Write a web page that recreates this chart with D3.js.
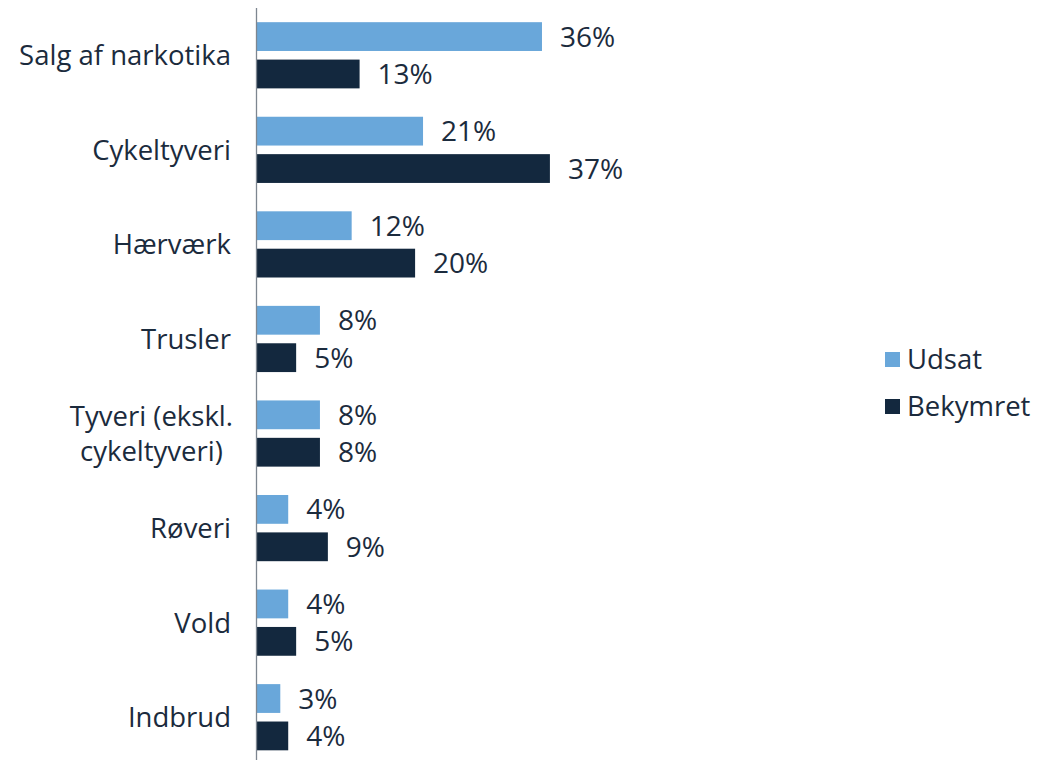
<!DOCTYPE html>
<html>
<head>
<meta charset="utf-8">
<script src="https://cdn.jsdelivr.net/npm/d3@7"></script>
<style>
  html, body { margin: 0; padding: 0; background: #ffffff; }
  svg { display: block; }
  text { font-family: "Open Sans", "Lato", sans-serif; fill: #1b2b3d; }
</style>
</head>
<body>
<svg id="chart" width="1058" height="760"></svg>
<script>
// Crime categories, top to bottom (the fifth one is split over two lines)
const categories = [
  "Salg af narkotika",
  "Cykeltyveri",
  "Hærværk",
  "Trusler",
  "Tyveri (ekskl.\ncykeltyveri)",
  "Røveri",
  "Vold",
  "Indbrud"
];
const seriesNames = ["Udsat", "Bekymret"];
// Share of respondents, in percent
const udsat    = [36, 21, 12, 8, 8, 4, 4, 3];
const bekymret = [13, 37, 20, 5, 8, 9, 5, 4];
const seriesColors = ["#69a7da", "#13283e"];

const rows = categories.map((c, i) => ({ category: c, values: [udsat[i], bekymret[i]] }));

const svg = d3.select("#chart");
const axisX = 256.5;
const labelRight = 231;

const x = d3.scaleLinear().domain([0, 37]).range([axisX, axisX + 37 * 7.93]);

const y = d3.scaleBand()
  .domain(d3.range(categories.length))
  .range([8, 764.5])
  .paddingInner(0.3)
  .paddingOuter(0.15);

const ySub = d3.scaleBand()
  .domain(d3.range(seriesNames.length))
  .range([0, y.bandwidth()])
  .paddingInner(0.23);

const groups = svg.append("g").selectAll("g")
  .data(rows)
  .join("g")
  .attr("transform", (d, i) => `translate(0,${y(i)})`);

// Bars
groups.selectAll("rect")
  .data(d => d.values)
  .join("rect")
  .attr("x", x(0))
  .attr("y", (v, j) => ySub(j))
  .attr("width", v => x(v) - x(0))
  .attr("height", ySub.bandwidth())
  .attr("fill", (v, j) => seriesColors[j]);

// Value labels
groups.selectAll("text.val")
  .data(d => d.values)
  .join("text")
  .attr("class", "val")
  .attr("x", v => x(v) + 18)
  .attr("y", (v, j) => ySub(j) + ySub.bandwidth() / 2)
  .attr("dy", "0.36em")
  .attr("font-size", 28)
  .text(v => v + "%");

// Category labels; wrapped labels have their lines centred on each other
groups.each(function (d) {
  const lines = d.category.split("\n");
  const g = d3.select(this);
  const lh = 35;
  const c = y.bandwidth() / 2;
  if (lines.length === 1) {
    g.append("text")
      .attr("text-anchor", "end")
      .attr("font-size", 27.5)
      .attr("x", labelRight)
      .attr("y", c)
      .attr("dy", "0.36em")
      .text(lines[0]);
  } else {
    const t = g.append("text")
      .attr("text-anchor", "middle")
      .attr("font-size", 27.5);
    const spans = lines.map((ln, k) => t.append("tspan")
      .attr("y", c + (k - (lines.length - 1) / 2) * lh)
      .attr("dy", "0.36em")
      .text(ln));
    const widest = d3.max(spans, s => s.node().getComputedTextLength());
    spans.forEach(s => s.attr("x", labelRight + 2 - widest / 2));
  }
});

// Category axis line
svg.append("line")
  .attr("x1", axisX).attr("x2", axisX)
  .attr("y1", 8).attr("y2", 760)
  .attr("stroke", "#7d8690")
  .attr("stroke-width", 1.3);

// Legend
const legend = svg.append("g").attr("transform", "translate(885,352)");
const li = legend.selectAll("g")
  .data(seriesNames)
  .join("g")
  .attr("transform", (d, i) => `translate(0,${i * 47})`);
li.append("rect")
  .attr("width", 15).attr("height", 15)
  .attr("fill", (d, i) => seriesColors[i]);
li.append("text")
  .attr("x", 22)
  .attr("y", 7.5)
  .attr("dy", "0.36em")
  .attr("font-size", 27.5)
  .text(d => d);
</script>
</body>
</html>
